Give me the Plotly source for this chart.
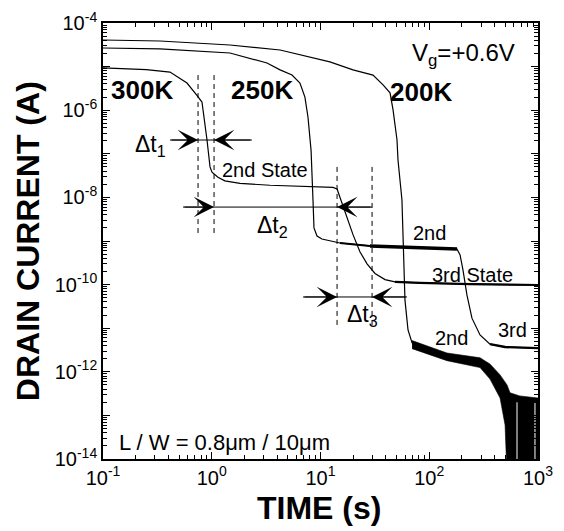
import math
import plotly.graph_objects as go

# ---------------- data ----------------
t_300 = [0.1, 0.25, 0.413, 0.592, 0.731, 0.813, 0.904, 0.964, 1.005, 1.14, 1.32, 1.82, 3.43, 6.47,
         13.0, 14.2, 15.4, 17.5, 19.9, 23.1, 26.8, 31.7, 39.2, 48.4, 82.2, 237, 1000]
I_300 = [9.3e-6, 8.5e-6, 7.5e-6, 4.2e-6, 2.2e-6, 1.54e-6, 2.1e-7, 5.0e-8, 3.8e-8, 2.9e-8, 2.4e-8, 2.1e-8,
         1.9e-8, 1.8e-8, 1.7e-8, 1.56e-8, 8.7e-9, 3.9e-9, 1.4e-9, 5.6e-10, 3.0e-10, 1.8e-10, 1.3e-10,
         1.15e-10, 1.09e-10, 1.03e-10, 9.8e-11]

t_250 = [0.1, 0.334, 1.47, 2.25, 3.22, 4.25, 5.47, 6.47, 7.19, 7.67, 8.19, 8.53, 8.71, 9.29, 10.3,
         15.1, 28.5, 66.5, 126, 180, 192, 204, 222, 247, 293, 362, 498, 1000]
I_250 = [2.67e-5, 2.54e-5, 2.05e-5, 1.57e-5, 1.21e-5, 8.4e-6, 6.4e-6, 4.2e-6, 2.0e-6, 7.0e-7, 1.2e-7,
         8.7e-9, 2.0e-9, 1.3e-9, 1.11e-9, 9.0e-10, 7.7e-10, 7.3e-10, 6.9e-10, 6.56e-10, 4.8e-10, 2.2e-10,
         5.8e-11, 1.7e-11, 7.0e-12, 4.3e-12, 3.7e-12, 3.5e-12]

t_200 = [0.1, 0.334, 1.47, 4.25, 12.2, 19.9, 30.4, 37.6, 43.6, 46.5, 50.5, 51.6, 56.1, 57.4, 59.8,
         63.8, 69.5, 82.2, 145.5, 293, 362, 448, 498, 530, 545]
I_200 = [4.07e-5, 3.86e-5, 3.13e-5, 2.40e-5, 1.28e-5, 8.4e-6, 6.4e-6, 3.8e-6, 2.5e-6, 1.0e-6, 2.1e-7,
         7.2e-8, 8.7e-9, 1.5e-9, 4.4e-11, 9.1e-12, 4.6e-12, 3.5e-12, 2.1e-12, 1.5e-12, 9.9e-13, 4.3e-13,
         2.3e-13, 7.8e-14, 1e-15]

# noisy band of the 200K curve (upper / lower envelopes)
band_t_up = [69.5, 145.5, 293, 362, 448, 519, 553, 679, 1000]
band_I_up = [5.2e-12, 2.7e-12, 2.1e-12, 1.5e-12, 8.5e-13, 5.0e-13, 3.3e-13, 2.8e-13, 2.5e-13]
band_t_lo = [69.5, 145.5, 293, 362, 448, 498, 530, 1000]
band_I_lo = [3.4e-12, 1.8e-12, 1.25e-12, 6.8e-13, 2.5e-13, 6.0e-14, 1e-15, 1e-15]
# white gaps inside the noisy tail
gap_t = [641, 938]
gap_top = [2.0e-13, 2.0e-13]
gap_bot = [1e-14, 1e-14]

# dashed marker lines
dash_t = [0.748, 1.05, 14.2, 29.8]
dash_top = [6.4e-6, 6.4e-6, 5.0e-8, 5.0e-8]
dash_bot = [1.24e-9, 1.24e-9, 1.07e-11, 1.07e-11]

# delta-t arrows
arrow_y = [2.07e-7, 6.0e-9, 5.2e-11]
arrow_left = [0.413, 0.544, 6.9]
arrow_right = [2.34, 29.8, 62.4]
tip_right = [0.748, 1.05, 14.2]   # right-pointing heads
tip_left = [1.05, 14.2, 29.8]     # left-pointing heads

x_tickvals = [0.1, 1, 10, 100, 1000]
x_ticktext = ["10<sup>-1</sup>", "10<sup>0</sup>", "10<sup>1</sup>", "10<sup>2</sup>", "10<sup>3</sup>"]
y_tickvals = [1e-14, 1e-13, 1e-12, 1e-11, 1e-10, 1e-9, 1e-8, 1e-7, 1e-6, 1e-5, 1e-4]
y_ticktext = ["10<sup>-14</sup>", "", "10<sup>-12</sup>", "", "10<sup>-10</sup>", "",
              "10<sup>-8</sup>", "", "10<sup>-6</sup>", "", "10<sup>-4</sup>"]
x_minor = [m * 10.0 ** e for e in range(-1, 3) for m in range(2, 10)]
y_minor = [m * 10.0 ** e for e in range(-14, -4) for m in range(2, 10)]

FONT = "Liberation Sans, Arial, Helvetica, sans-serif"
fig = go.Figure()

def line(x, y, w=1.2, dash=None, color="black"):
    fig.add_trace(go.Scatter(x=x, y=y, mode="lines", line=dict(color=color, width=w, dash=dash),
                             hoverinfo="skip", showlegend=False))

# 200K noise band
fig.add_trace(go.Scatter(x=band_t_up + band_t_lo[::-1], y=band_I_up + band_I_lo[::-1], mode="lines",
                         fill="toself", fillcolor="black", line=dict(color="black", width=0.6),
                         hoverinfo="skip", showlegend=False))
for t, a, b in zip(gap_t, gap_top, gap_bot):
    line([t, t], [a, b], 1, None, "white")

line(t_300, I_300)
line(t_300[23:], I_300[23:], 2.2)
line(t_250, I_250)
line(t_250[15:17], I_250[15:17], 2.0)
line(t_250[16:20], I_250[16:20], 3.4)
line(t_250[25:], I_250[25:], 2.4)
line(t_200, I_200)

for t, a, b in zip(dash_t, dash_top, dash_bot):
    line([t, t], [a, b], 1, "5px,4px")

for y, l, r in zip(arrow_y, arrow_left, arrow_right):
    line([l, r], [y, y], 1)

ann = []
for y, l, r, tr, tl in zip(arrow_y, arrow_left, arrow_right, tip_right, tip_left):
    for tip, tail in ((tr, l), (tl, r)):
        ann.append(dict(x=math.log10(tip), y=math.log10(y), ax=math.log10(tail), ay=math.log10(y),
                        xref="x", yref="y", axref="x", ayref="y", text="", showarrow=True,
                        arrowhead=3, arrowsize=3.4, arrowwidth=1, arrowcolor="black", standoff=0))

def txt(x, y, s, size=19, bold=False, xanchor="center"):
    ann.append(dict(x=x, y=y, xref="x", yref="y", text=("<b>%s</b>" % s) if bold else s,
                    showarrow=False, xanchor=xanchor, yanchor="middle",
                    font=dict(family=FONT, size=size, color="black")))

txt(-0.641, -5.54, "300K", 26, True)
txt(0.462, -5.54, "250K", 26, True)
txt(1.924, -5.58, "200K", 26, True)
txt(2.807, -4.72, "V<sub>g</sub>=+0.6V", 24, False, "right")
txt(0.490, -7.37, "2nd State", 20)
txt(1.998, -8.82, "2nd", 20)
txt(2.402, -9.78, "3rd State", 20)
txt(2.761, -11.04, "3rd", 20)
txt(2.209, -11.23, "2nd", 20)
txt(0.113, -13.63, "L / W = 0.8μm / 10μm", 22)
txt(-0.402, -6.80, "Δt<sub>1</sub>", 23, False, "right")
txt(0.554, -8.66, "Δt<sub>2</sub>", 23)
txt(1.382, -10.70, "Δt<sub>3</sub>", 23)

ann.append(dict(x=-0.172, y=0.5, xref="paper", yref="paper", text="<b>DRAIN CURRENT (A)</b>",
                textangle=-90, showarrow=False, xanchor="center", yanchor="middle",
                font=dict(family=FONT, size=32, color="black")))
ann.append(dict(x=0.497, y=-0.112, xref="paper", yref="paper", text="<b>TIME (s)</b>",
                showarrow=False, xanchor="center", yanchor="middle",
                font=dict(family=FONT, size=32, color="black")))

axis_common = dict(type="log", showline=True, linecolor="black", linewidth=1.6, mirror="ticks",
                   ticks="inside", ticklen=7, tickwidth=1, tickcolor="black", showgrid=False,
                   zeroline=False, automargin=False,
                   tickfont=dict(family=FONT, size=20, color="black"))

# the page body has an 8px default margin, so the figure is 8px smaller and shifted
fig.update_layout(
    width=556, height=523, margin=dict(l=95, r=26, t=15, b=72, autoexpand=False),
    plot_bgcolor="white", paper_bgcolor="white", showlegend=False,
    font=dict(family=FONT, color="black"),
    xaxis=dict(axis_common, range=[-1, 3], tickmode="array", tickvals=x_tickvals, ticktext=x_ticktext,
               minor=dict(ticks="inside", ticklen=4, tickwidth=1, tickcolor="black",
                          tickmode="array", tickvals=x_minor, showgrid=False)),
    yaxis=dict(axis_common, range=[-14, -4], tickmode="array", tickvals=y_tickvals, ticktext=y_ticktext,
               minor=dict(ticks="inside", ticklen=4, tickwidth=1, tickcolor="black",
                          tickmode="array", tickvals=y_minor, showgrid=False)),
    annotations=ann,
)

fig.write_html("out.html")
